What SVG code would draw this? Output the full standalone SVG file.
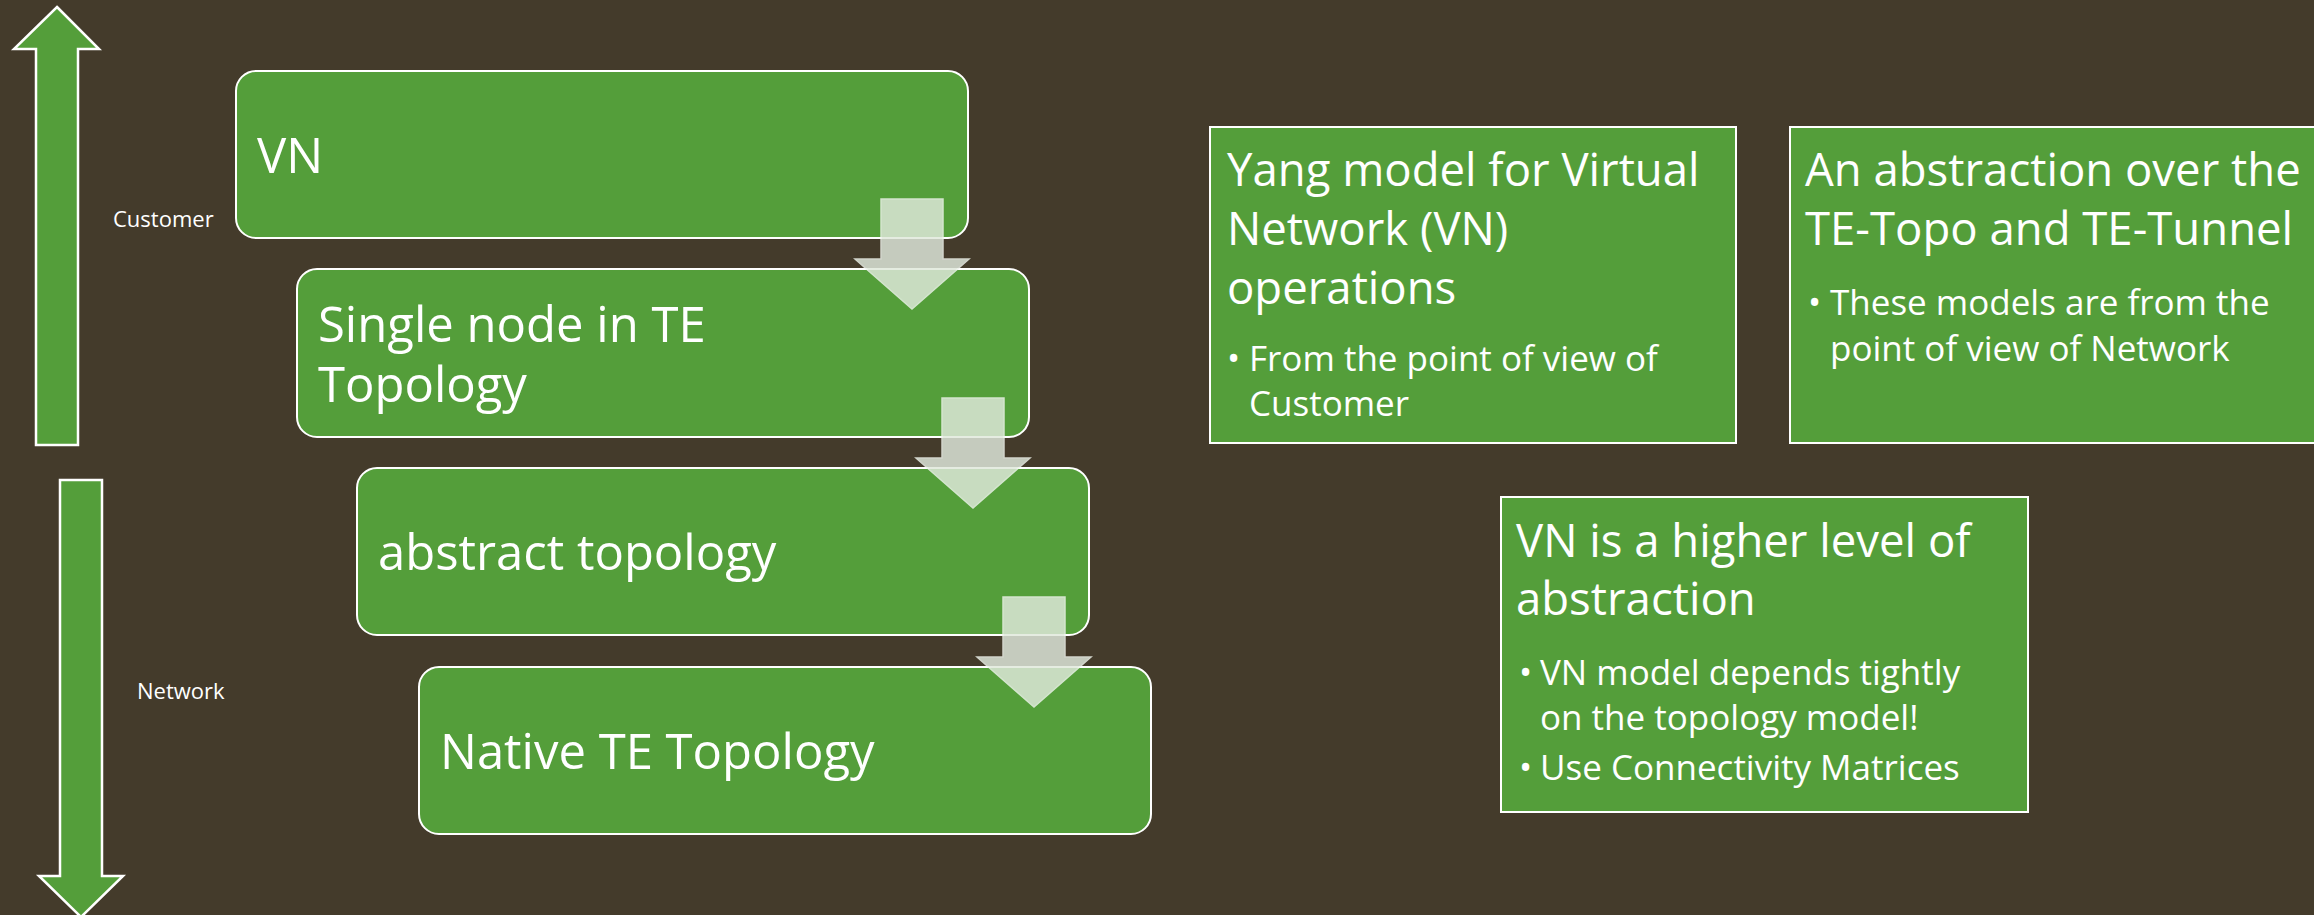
<svg xmlns="http://www.w3.org/2000/svg" width="2314" height="915" viewBox="0 0 2314 915">
  <style>
    .bg { fill: #443b2b; }
    .big { fill: #549e3a; stroke: #ffffff; stroke-width: 2.5; stroke-linejoin: miter; }
    .node { fill: #549e3a; stroke: #ffffff; stroke-width: 2; }
    .box { fill: #549e3a; stroke: #ffffff; stroke-width: 2; }
    .ntext { font-family: "Open Sans", "Noto Sans", "Liberation Sans", sans-serif; font-weight: 400; font-size: 49px; fill: #ffffff; }
    .title { font-family: "Open Sans", "Noto Sans", "Liberation Sans", sans-serif; font-weight: 400; font-size: 45.5px; fill: #ffffff; }
    .bullet { font-family: "Open Sans", "Noto Sans", "Liberation Sans", sans-serif; font-weight: 400; font-size: 35px; fill: #ffffff; }
    .label { font-family: "Open Sans", "Noto Sans", "Liberation Sans", sans-serif; font-size: 22px; fill: #ffffff; }
    .chev { fill: #e0e9dc; stroke: #eef4ec; stroke-width: 1.5; opacity: 0.83; }
  </style>
  <rect class="bg" x="0" y="0" width="2314" height="915"/>

  <g id="arrow-customer">
    <polygon class="big" points="57,7 99,49 78,49 78,445 36,445 36,49 14,49"/>
    <text class="label" x="113" y="227">Customer</text>
  </g>
  <g id="arrow-network">
    <polygon class="big" points="60,480 102,480 102,876 123,876 81,917 39,876 60,876"/>
    <text class="label" x="137" y="699">Network</text>
  </g>

  <g id="node-vn">
    <rect class="node" x="236" y="71" width="732" height="167" rx="20" ry="20"/>
    <text class="ntext" x="257" y="173">VN</text>
  </g>
  <g id="node-single">
    <rect class="node" x="297" y="269" width="732" height="168" rx="20" ry="20"/>
    <text class="ntext" x="318" y="342">Single node in TE</text>
    <text class="ntext" x="318" y="402">Topology</text>
  </g>
  <g id="node-abstract">
    <rect class="node" x="357" y="468" width="732" height="167" rx="20" ry="20"/>
    <text class="ntext" x="378" y="570">abstract topology</text>
  </g>
  <g id="node-native">
    <rect class="node" x="419" y="667" width="732" height="167" rx="20" ry="20"/>
    <text class="ntext" x="440" y="769">Native TE Topology</text>
  </g>

  <g id="box-yang">
    <rect class="box" x="1210" y="127" width="526" height="316"/>
    <text class="title" x="1227" y="186">Yang model for Virtual</text>
    <text class="title" x="1227" y="245">Network (VN)</text>
    <text class="title" x="1227" y="304">operations</text>
    <text class="bullet" x="1227" y="371">•</text>
    <text class="bullet" x="1249" y="371">From the point of view of</text>
    <text class="bullet" x="1249" y="416">Customer</text>
  </g>
  <g id="box-abstraction">
    <rect class="box" x="1790" y="127" width="528" height="316"/>
    <text class="title" x="1805" y="186">An abstraction over the</text>
    <text class="title" x="1805" y="245">TE-Topo and TE-Tunnel</text>
    <text class="bullet" x="1808" y="315">•</text>
    <text class="bullet" x="1830" y="315">These models are from the</text>
    <text class="bullet" x="1830" y="361">point of view of Network</text>
  </g>
  <g id="box-higher">
    <rect class="box" x="1501" y="497" width="527" height="315"/>
    <text class="title" x="1516" y="557">VN is a higher level of</text>
    <text class="title" x="1516" y="615">abstraction</text>
    <text class="bullet" x="1519" y="685">•</text>
    <text class="bullet" x="1540" y="685">VN model depends tightly</text>
    <text class="bullet" x="1540" y="730">on the topology model!</text>
    <text class="bullet" x="1519" y="780">•</text>
    <text class="bullet" x="1540" y="780">Use Connectivity Matrices</text>
  </g>

  <g id="connectors">
    <polygon class="chev" points="881,199 943,199 943,259 969,259 912,309 855,259 881,259"/>
    <polygon class="chev" points="942,398 1004,398 1004,458 1030,458 973,508 916,458 942,458"/>
    <polygon class="chev" points="1003,597 1065,597 1065,657 1091,657 1034,707 977,657 1003,657"/>
  </g>
</svg>
